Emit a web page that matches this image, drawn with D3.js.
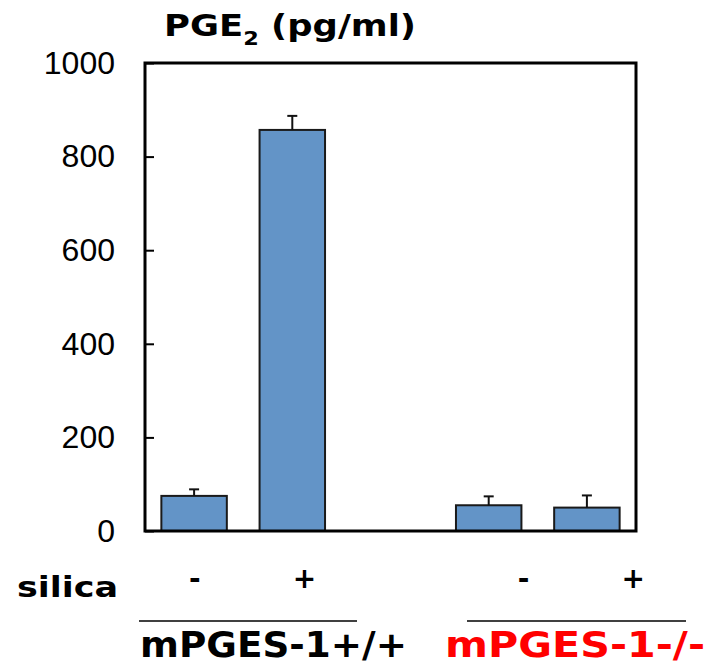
<!DOCTYPE html>
<html lang="en">
  <head>
    <meta charset="UTF-8" />
    <title>PGE2 bar chart</title>
    <style>
      body { margin: 0; background: #fff; }
      .comic { font-family: "DejaVu Sans", Verdana, sans-serif; font-weight: bold; }
      .tick text { font-family: "Liberation Sans", Arial, Helvetica, sans-serif; }
    </style>
  </head>
  <body>
    <div class="chart"></div>
    <script src="https://cdn.jsdelivr.net/npm/d3@7"></script>
    <script>

    // data
    var slots = ["wt-", "wt+", "gap", "ko-", "ko+"];
    var groups = ["wt-", "wt+", "ko-", "ko+"];
    var values = [75, 857, 55, 50];
    var errors = [14, 30, 19, 26];
    var silica = ["-", "+", "-", "+"];
    var genotypes = ["mPGES-1+/+", "mPGES-1-/-"];
    var yTicks = [0, 200, 400, 600, 800, 1000];

    var width = 718;
    var height = 667;

    var margin = { top: 63, bottom: 136, left: 145, right: 82 };

    var svg = d3.select(".chart")
      .append("svg")
      .attr("width", width)
      .attr("height", height);

    var x = d3.scaleBand()
      .domain(slots)
      .range([margin.left, width - margin.right])
      .paddingInner(1 / 3)
      .paddingOuter(1 / 6);

    // the silica +/- labels sit on their own spacing
    var xLab = d3.scaleBand()
      .domain(slots)
      .range([140, 688]);

    var y = d3.scaleLinear()
      .domain([0, 1000])
      .range([height - margin.bottom, margin.top]);

    var yAxis = d3.axisLeft(y)
      .tickValues(yTicks)
      .tickSize(-9)
      .tickPadding(30)
      .tickFormat(d3.format("d"));

    var gy = svg.append("g")
      .attr("transform", "translate(" + margin.left + ",0)")
      .call(yAxis);
    gy.select(".domain").remove();
    gy.selectAll(".tick line").attr("stroke", "#000").attr("stroke-width", 2);
    gy.selectAll(".tick text").attr("font-size", 32).attr("fill", "#000");

    // bars
    svg.selectAll("rect.bar")
      .data(groups)
      .enter()
      .append("rect")
      .attr("class", "bar")
      .attr("x", function(d) { return x(d); })
      .attr("y", function(d, i) { return y(values[i]); })
      .attr("width", x.bandwidth())
      .attr("height", function(d, i) { return y(0) - y(values[i]); })
      .attr("fill", "#6394c7")
      .attr("stroke", "#1a1a1a")
      .attr("stroke-width", 2);

    // error bars
    var err = svg.append("g").attr("stroke", "#111").attr("stroke-width", 2);
    groups.forEach(function(d, i) {
      var cx = x(d) + x.bandwidth() / 2;
      err.append("line")
        .attr("x1", cx).attr("x2", cx)
        .attr("y1", y(values[i])).attr("y2", y(values[i] + errors[i]));
      err.append("line")
        .attr("x1", cx - 5).attr("x2", cx + 5)
        .attr("y1", y(values[i] + errors[i])).attr("y2", y(values[i] + errors[i]));
    });

    // frame
    svg.append("rect")
      .attr("x", margin.left)
      .attr("y", margin.top)
      .attr("width", width - margin.left - margin.right)
      .attr("height", height - margin.top - margin.bottom)
      .attr("fill", "none")
      .attr("stroke", "#000")
      .attr("stroke-width", 3);

    // title
    var title = svg.append("text")
      .attr("class", "comic")
      .attr("x", 164)
      .attr("y", 36)
      .attr("font-size", 30)
      .attr("textLength", 252)
      .attr("lengthAdjust", "spacingAndGlyphs")
      .attr("fill", "#000");
    title.append("tspan").text("PGE");
    title.append("tspan").attr("font-size", 19).attr("dy", 9).text("2");
    title.append("tspan").attr("dy", -9).text(" (pg/ml)");

    // silica row
    svg.append("text")
      .attr("class", "comic")
      .attr("x", 17)
      .attr("y", 597)
      .attr("font-size", 29)
      .attr("textLength", 101)
      .attr("lengthAdjust", "spacingAndGlyphs")
      .attr("fill", "#000")
      .text("silica");

    svg.selectAll("text.sil")
      .data(groups)
      .enter()
      .append("text")
      .attr("class", "sil comic")
      .attr("x", function(d) { return xLab(d) + xLab.bandwidth() / 2; })
      .attr("y", 588)
      .attr("text-anchor", "middle")
      .attr("font-size", 28)
      .attr("fill", "#000")
      .text(function(d, i) { return silica[i]; });

    // genotype labels with overlines
    var genoX = [[139, 357], [467, 686]];
    var genoText = [[140, 267], [445, 260]];
    var genoColor = ["#000", "#ff0000"];
    genotypes.forEach(function(g, i) {
      svg.append("line")
        .attr("x1", genoX[i][0]).attr("x2", genoX[i][1])
        .attr("y1", 621).attr("y2", 621)
        .attr("stroke", "#000").attr("stroke-width", 1.5);
      svg.append("text")
        .attr("class", "comic")
        .attr("x", genoText[i][0])
        .attr("y", 657)
        .attr("font-size", 35)
        .attr("textLength", genoText[i][1])
        .attr("lengthAdjust", "spacingAndGlyphs")
        .attr("fill", genoColor[i])
        .text(g);
    });

    </script>
  </body>
</html>
